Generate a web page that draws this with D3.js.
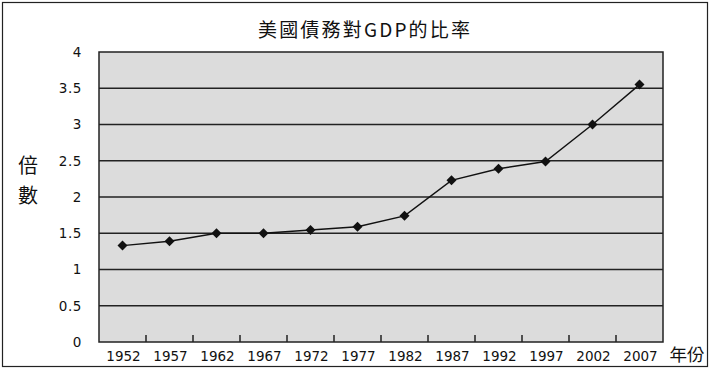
<!DOCTYPE html>
<html>
<head>
<meta charset="utf-8">
<script src="https://cdn.jsdelivr.net/npm/d3@7"></script>
<style>
  body { margin: 0; background: #fff; }
  svg text { font-family: "DejaVu Sans", "Liberation Sans", sans-serif; fill: #111; }
  .cjk { font-family: "Noto Sans CJK TC", "Noto Sans CJK SC", sans-serif; }
</style>
</head>
<body>
<svg id="chart" width="711" height="370"></svg>
<script>
// data
var years = ['1952', '1957', '1962', '1967', '1972', '1977', '1982', '1987', '1992', '1997', '2002', '2007'];
var ratios = [1.33, 1.39, 1.50, 1.50, 1.545, 1.59, 1.74, 2.23, 2.39, 2.49, 3.0, 3.55];
var yTicks = [0, 0.5, 1, 1.5, 2, 2.5, 3, 3.5, 4];

var svg = d3.select('#chart');
var margin = { top: 52, right: 48, bottom: 28, left: 99 };
var width = 711 - margin.left - margin.right;
var height = 370 - margin.top - margin.bottom;

// outer frame
svg.append('rect')
  .attr('x', 2.5).attr('y', 2.5)
  .attr('width', 705).attr('height', 364)
  .attr('fill', 'none').attr('stroke', '#222').attr('stroke-width', 1.2);

svg.append('text')
  .attr('class', 'cjk')
  .attr('x', 364).attr('y', 37)
  .attr('text-anchor', 'middle')
  .attr('font-size', 19)
  .attr('textLength', 212)
  .text('美國債務對GDP的比率');

var g = svg.append('g').attr('transform', 'translate(' + margin.left + ',' + margin.top + ')');

var x = d3.scaleBand().domain(years).range([0, width]);
var y = d3.scaleLinear().domain([0, 4]).range([height, 0]);

g.append('rect')
  .attr('width', width).attr('height', height)
  .attr('fill', '#dcdcdc').attr('stroke', '#222').attr('stroke-width', 1.5);

// gridlines
g.selectAll('.grid').data(yTicks.slice(1, -1)).enter().append('line')
  .attr('class', 'grid')
  .attr('x1', 0).attr('x2', width)
  .attr('y1', function(d) { return y(d); })
  .attr('y2', function(d) { return y(d); })
  .attr('stroke', '#222').attr('stroke-width', 1.5);

// y axis labels
g.selectAll('.ylab').data(yTicks).enter().append('text')
  .attr('class', 'ylab')
  .attr('x', -17)
  .attr('y', function(d) { return y(d); })
  .attr('dy', '0.36em')
  .attr('text-anchor', 'end')
  .attr('font-size', 13.5)
  .attr('letter-spacing', 0.6)
  .text(function(d) { return d; });

// x ticks (inward, between categories)
g.selectAll('.xtick').data(years.slice(1)).enter().append('line')
  .attr('class', 'xtick')
  .attr('x1', function(d) { return x(d); })
  .attr('x2', function(d) { return x(d); })
  .attr('y1', height).attr('y2', height - 7)
  .attr('stroke', '#222').attr('stroke-width', 1.5);

g.selectAll('.xlab').data(years).enter().append('text')
  .attr('class', 'xlab')
  .attr('x', function(d) { return x(d) + x.bandwidth() / 2 + 1; })
  .attr('y', height + 19)
  .attr('text-anchor', 'middle')
  .attr('font-size', 13.5)
  .text(function(d) { return d; });

// axis titles
svg.append('text').attr('class', 'cjk')
  .attr('x', 687).attr('y', 361)
  .attr('text-anchor', 'middle')
  .attr('font-size', 17.5)
  .text('年份');

svg.selectAll('.ytitle').data(['倍', '數']).enter().append('text')
  .attr('class', 'cjk ytitle')
  .attr('x', 28)
  .attr('y', function(d, i) { return 173 + i * 30; })
  .attr('text-anchor', 'middle')
  .attr('font-size', 20)
  .text(function(d) { return d; });

// line + markers
var line = d3.line()
  .x(function(d, i) { return x(years[i]) + x.bandwidth() / 2; })
  .y(function(d) { return y(d); });

g.append('path')
  .datum(ratios)
  .attr('d', line)
  .attr('fill', 'none').attr('stroke', '#111').attr('stroke-width', 1.4);

g.selectAll('.pt').data(ratios).enter().append('path')
  .attr('class', 'pt')
  .attr('d', d3.symbol().type(d3.symbolSquare).size(50))
  .attr('transform', function(d, i) {
    return 'translate(' + (x(years[i]) + x.bandwidth() / 2) + ',' + y(d) + ') rotate(45)';
  })
  .attr('fill', '#111');
</script>
</body>
</html>
